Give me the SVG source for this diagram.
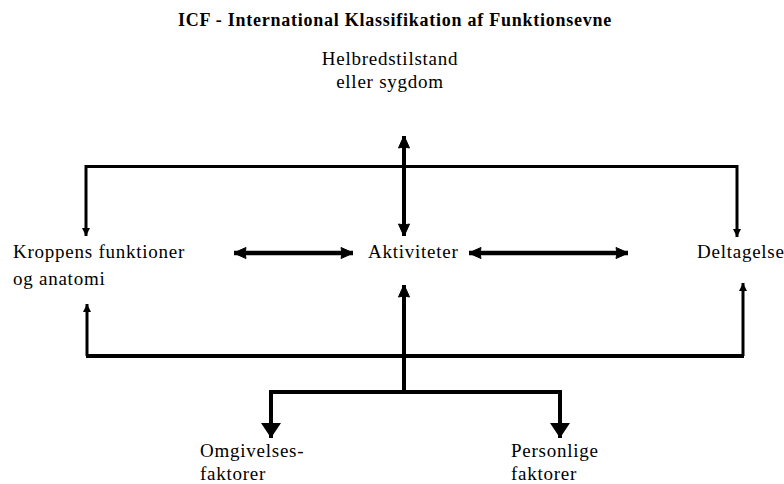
<svg xmlns="http://www.w3.org/2000/svg" width="784" height="484" viewBox="0 0 784 484">
  <style>
    text { font-family: "Liberation Serif", "Times New Roman", serif; font-size: 19px; letter-spacing: 0.75px; fill: #000; }
    .title { font-weight: bold; font-size: 18px; letter-spacing: 0.75px; }
    .ln { stroke: #000; fill: none; stroke-linejoin: miter; stroke-linecap: butt; }
    .thin { stroke-width: 3; }
    .mid { stroke-width: 4; }
    .thick { stroke-width: 4.5; }
  </style>
  <defs>
    <!-- small rounded head used on the double-ended arrows -->
    <marker id="head" markerUnits="userSpaceOnUse" markerWidth="16" markerHeight="16" viewBox="-14 -8 16 16" refX="0" refY="0" orient="auto-start-reverse">
      <path d="M-12,-5.5 Q-6,-3 0,0 Q-6,3 -12,5.5 Q-10,0 -12,-5.5 Z" fill="#000" stroke="#000" stroke-width="1" stroke-linejoin="round"/>
    </marker>
    <!-- narrow head on the thin feedback arrows -->
    <marker id="small" markerUnits="userSpaceOnUse" markerWidth="12" markerHeight="12" viewBox="-10 -6 12 12" refX="0" refY="0" orient="auto">
      <path d="M-8,-4 L0,0 L-8,4 Z" fill="#000"/>
    </marker>
    <!-- large triangular head for the context factors -->
    <marker id="big" markerUnits="userSpaceOnUse" markerWidth="20" markerHeight="24" viewBox="-17 -12 20 24" refX="0" refY="0" orient="auto">
      <path d="M-15,-10 L0,0 L-15,10 Z" fill="#000"/>
    </marker>
  </defs>

  <text class="title" x="395" y="26" text-anchor="middle">ICF - International Klassifikation af Funktionsevne</text>

  <g id="helbred">
    <text x="390" y="65" text-anchor="middle">Helbredstilstand</text>
    <text x="390" y="88" text-anchor="middle">eller sygdom</text>
  </g>
  <g id="kroppens">
    <text x="13" y="258">Kroppens funktioner</text>
    <text x="13" y="285">og anatomi</text>
  </g>
  <g id="aktiviteter">
    <text x="368" y="258">Aktiviteter</text>
  </g>
  <g id="deltagelse">
    <text x="697" y="258">Deltagelse</text>
  </g>
  <g id="omgivelses">
    <text x="200" y="457">Omgivelses-</text>
    <text x="200" y="480">faktorer</text>
  </g>
  <g id="personlige">
    <text x="511" y="457">Personlige</text>
    <text x="511" y="480">faktorer</text>
  </g>

  <g id="connectors">
    <!-- upper bracket feeding body functions and participation -->
    <path class="ln thin" d="M86,166.5 H737.5"/>
    <path class="ln thin" d="M86,165 V236" marker-end="url(#small)"/>
    <path class="ln thin" d="M737,165 V237" marker-end="url(#small)"/>
    <!-- health condition to activities -->
    <path class="ln mid" d="M404,136 V236" marker-start="url(#head)" marker-end="url(#head)"/>
    <!-- horizontal interactions -->
    <path class="ln thick" d="M234,253 H353" marker-start="url(#head)" marker-end="url(#head)"/>
    <path class="ln thick" d="M469,253 H628" marker-start="url(#head)" marker-end="url(#head)"/>
    <!-- lower bracket from context factors -->
    <path class="ln mid" d="M86,356 H744"/>
    <path class="ln thin" d="M87,356 V304" marker-end="url(#small)"/>
    <path class="ln thin" d="M743,356 V283" marker-end="url(#small)"/>
    <path class="ln mid" d="M404,392 V285" marker-end="url(#head)"/>
    <path class="ln mid" d="M271,438 V392 H560 V438"/>
    <path class="ln mid" d="M271,392 V438" marker-end="url(#big)"/>
    <path class="ln mid" d="M560,392 V438" marker-end="url(#big)"/>
  </g>
</svg>
